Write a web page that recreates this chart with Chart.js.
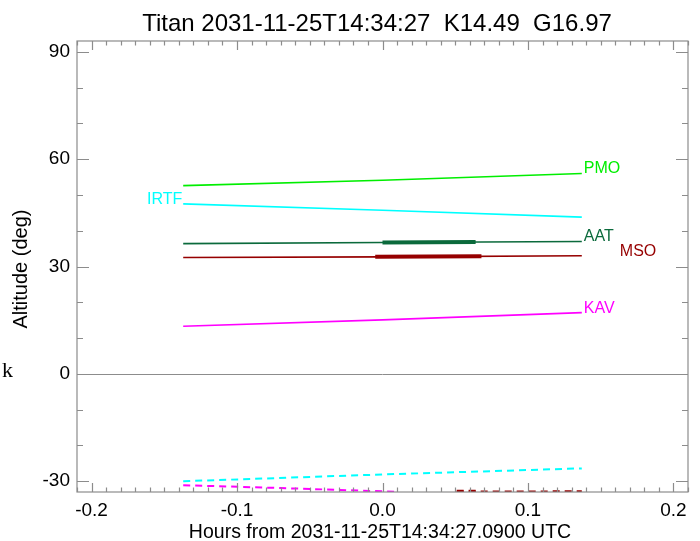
<!DOCTYPE html>
<html>
<head>
<meta charset="utf-8">
<script src="https://cdn.jsdelivr.net/npm/chart.js@4.4.1/dist/chart.umd.min.js"></script>
<style>
    html, body { margin: 0; padding: 0; background: #fff; }
    #wrap { width: 700px; height: 541px; position: relative; }
</style>
</head>
<body>
<div id="wrap"><canvas id="altChart"></canvas></div>
<script>
// titles
const chartTitle = 'Titan 2031-11-25T14:34:27  K14.49  G16.97';
const xTitle = 'Hours from 2031-11-25T14:34:27.0900 UTC';
const yTitle = 'Altitude (deg)';

// axis ticks
const xTicks = [-0.2, -0.1, 0.0, 0.1, 0.2];
const yTicks = [-30, 0, 30, 60, 90];

// altitude tracks (hours from reference time)
const hours = [-0.137, 0.0, 0.137];
const pmoAlt = [52.6, 54.1, 56.0];
const irtfAlt = [47.5, 45.7, 43.8];
const aatAlt = [36.4, 36.7, 37.0];
const msoAlt = [32.5, 32.7, 33.0];
const kavAlt = [13.3, 15.1, 17.1];

// thick parts = observing windows
const aatWinHours = [0.0, 0.064];
const aatWinAlt = [36.7, 36.85];
const msoWinHours = [-0.005, 0.068];
const msoWinAlt = [32.7, 32.85];

// dashed tracks near the bottom
const irtfLowAlt = [-30.0, -28.1, -26.4];
const kavLowHours = [-0.137, -0.07, 0.0, 0.01];
const kavLowAlt = [-31.1, -31.9, -32.8, -33.0];
const msoLowHours = [0.051, 0.137];
const msoLowAlt = [-32.9, -32.8];
const msoLowWinHours = [0.051, 0.065];
const msoLowWinAlt = [-32.9, -32.9];

const GREEN = '#00ee00', CYAN = '#00ffff', DKGREEN = '#0b6a3c', DKRED = '#960000', MAGENTA = '#ff00ff';
const AXIS_GREY = '#8c8c8c';

function pts(xs, ys) {
    return xs.map((x, i) => ({ x: x, y: ys[i] }));
}

function track(xs, ys, color, width, dash) {
    return {
        data: pts(xs, ys),
        borderColor: color,
        borderWidth: width,
        borderDash: dash || [],
        pointRadius: 0,
        tension: 0,
        fill: false
    };
}

const datasets = [
    track(hours, pmoAlt, GREEN, 1.6),
    track(hours, irtfAlt, CYAN, 1.6),
    track(hours, aatAlt, DKGREEN, 1.6),
    track(aatWinHours, aatWinAlt, DKGREEN, 4),
    track(hours, msoAlt, DKRED, 1.6),
    track(msoWinHours, msoWinAlt, DKRED, 4),
    track(hours, kavAlt, MAGENTA, 1.6),
    track(hours, irtfLowAlt, CYAN, 2, [7, 5]),
    track(kavLowHours, kavLowAlt, MAGENTA, 2, [7, 5]),
    track(msoLowHours, msoLowAlt, DKRED, 2, [7, 5]),
    track(msoLowWinHours, msoLowWinAlt, DKRED, 4, [7, 5])
];

// text labels next to the tracks: [text, color, series x, series y, use end?, dx, dy, align]
const trackLabels = [
    ['PMO', GREEN, hours, pmoAlt, true, 2, 0, 'left'],
    ['IRTF', CYAN, hours, irtfAlt, false, -1, 0, 'right'],
    ['AAT', DKGREEN, hours, aatAlt, true, 2, 0, 'left'],
    ['MSO', DKRED, hours, msoAlt, true, 38, 0, 'left'],
    ['KAV', MAGENTA, hours, kavAlt, true, 2, 0, 'left']
];

const FONT = '"Liberation Sans", Arial, sans-serif';

const framePlugin = {
    id: 'frame',
    beforeDatasetsDraw(chart) {
        const { ctx, chartArea: a, scales: { y } } = chart;
        ctx.save();
        ctx.strokeStyle = AXIS_GREY;
        ctx.lineWidth = 1;
        const y0 = Math.round(y.getPixelForValue(0)) + 0.5;
        ctx.beginPath();
        ctx.moveTo(a.left, y0);
        ctx.lineTo(a.right, y0);
        ctx.stroke();
        ctx.restore();
    },
    afterDatasetsDraw(chart) {
        const { ctx, chartArea: a, scales: { x, y } } = chart;
        ctx.save();
        ctx.strokeStyle = AXIS_GREY;
        ctx.lineWidth = 1.2;
        ctx.strokeRect(a.left, a.top, a.right - a.left, a.bottom - a.top);

        // x ticks every 0.01 h, major every 0.1
        ctx.beginPath();
        for (let i = -21; i <= 21; i++) {
            const px = Math.round(x.getPixelForValue(i / 100)) + 0.5;
            const len = (i % 10 === 0) ? 9 : 4.5;
            ctx.moveTo(px, a.bottom); ctx.lineTo(px, a.bottom - len);
            ctx.moveTo(px, a.top); ctx.lineTo(px, a.top + len);
        }
        // y ticks every 10 deg, major every 30
        for (let v = -30; v <= 90; v += 10) {
            const py = Math.round(y.getPixelForValue(v)) + 0.5;
            const len = (v % 30 === 0) ? 12 : 6;
            ctx.moveTo(a.left, py); ctx.lineTo(a.left + len, py);
            ctx.moveTo(a.right, py); ctx.lineTo(a.right - len, py);
        }
        ctx.stroke();

        // track labels
        ctx.font = '16px ' + FONT;
        ctx.textBaseline = 'alphabetic';
        trackLabels.forEach(([text, color, xs, ys, atEnd, dx, dy, align]) => {
            const k = atEnd ? xs.length - 1 : 0;
            ctx.fillStyle = color;
            ctx.textAlign = align;
            ctx.fillText(text, x.getPixelForValue(xs[k]) + dx, y.getPixelForValue(ys[k]) + dy);
        });

        // titles
        ctx.fillStyle = '#000';
        ctx.textAlign = 'center';
        ctx.font = '24px ' + FONT;
        ctx.fillText(chartTitle, 377, 31);
        ctx.font = '19.5px ' + FONT;
        ctx.fillText(xTitle, 380, 538);
        ctx.save();
        ctx.translate(27, 269);
        ctx.rotate(-Math.PI / 2);
        ctx.font = '20px ' + FONT;
        ctx.fillText(yTitle, 0, 0);
        ctx.restore();

        // stray glyph at the left margin
        ctx.textAlign = 'left';
        ctx.font = '22px "Liberation Serif", serif';
        ctx.fillText('k', 2, 377);
        ctx.restore();
    }
};

const ctx = document.getElementById('altChart').getContext('2d');
new Chart(ctx, {
    type: 'line',
    data: { datasets: datasets },
    options: {
        responsive: true,
        maintainAspectRatio: false,
        animation: false,
        layout: { padding: { top: 41, right: 12, left: 0, bottom: 0 } },
        plugins: { legend: { display: false }, tooltip: { enabled: false } },
        scales: {
            x: {
                type: 'linear',
                min: -0.21,
                max: 0.21,
                grid: { display: false, drawTicks: false },
                border: { display: false },
                afterBuildTicks: (s) => { s.ticks = xTicks.map(v => ({ value: v })); },
                afterFit: (s) => { s.height = 49; },
                ticks: {
                    color: '#000',
                    padding: 7,
                    maxRotation: 0,
                    autoSkip: false,
                    font: { family: FONT, size: 19 },
                    callback: (v) => v.toFixed(1)
                }
            },
            y: {
                min: -33,
                max: 93,
                grid: { display: false, drawTicks: false },
                border: { display: false },
                afterBuildTicks: (s) => { s.ticks = yTicks.map(v => ({ value: v })); },
                afterFit: (s) => { s.width = 77; },
                ticks: {
                    color: '#000',
                    padding: 7,
                    autoSkip: false,
                    font: { family: FONT, size: 19 },
                    callback: (v) => String(v)
                }
            }
        }
    },
    plugins: [framePlugin]
});
</script>
</body>
</html>
